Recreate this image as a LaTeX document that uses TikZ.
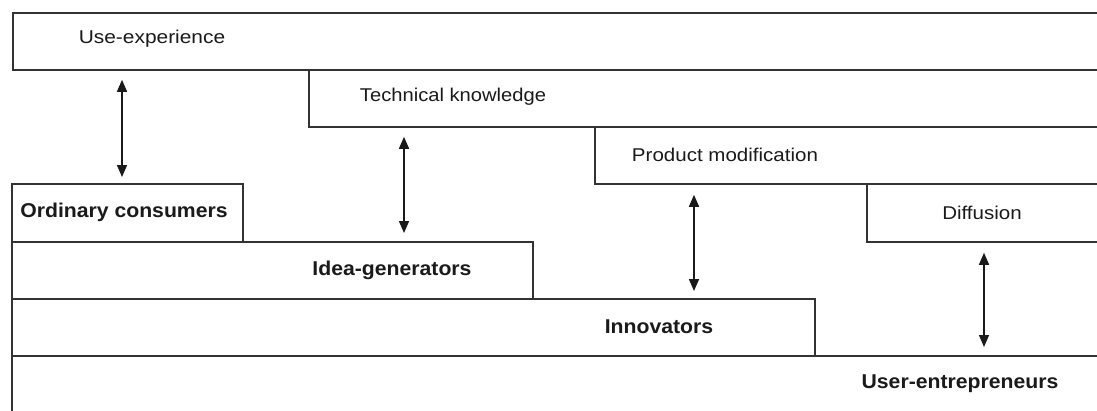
\documentclass[tikz,border=0pt]{standalone}
\usepackage{fontspec}
\setmainfont{Liberation Sans}
\usetikzlibrary{arrows.meta}
\definecolor{edge}{HTML}{333333}
\definecolor{ink}{HTML}{1A1A1A}
\begin{document}
\begin{tikzpicture}[x=1pt,y=-1pt,
  box/.style={draw=edge,line width=1.8pt,rectangle,inner sep=0pt,anchor=north west},
  lbl/.style={text=ink,inner sep=0pt,font=\fontsize{18.5}{21}\selectfont},
  bl/.style={text=ink,inner sep=0pt,font=\fontsize{20}{23}\selectfont\bfseries},
  arr/.style={draw=ink,line width=1.5pt,{Triangle[length=12pt,width=10pt]}-{Triangle[length=12pt,width=10pt]}}]
\useasboundingbox (0,0) rectangle (1097,410);
\fill[white] (0,0) rectangle (1097,410);
\begin{scope}
\clip (0,0) rectangle (1097,410);
% knowledge / activity layers, top right
\node[box,minimum width=1100pt,minimum height=57pt] (ue) at (12,12) {};
\node[box,minimum width=800pt,minimum height=57pt] (tk) at (308,69) {};
\node[box,minimum width=520pt,minimum height=57pt] (pm) at (594,126) {};
\node[box,minimum width=250pt,minimum height=58pt] (df) at (866,183) {};
% user types, bottom left
\node[box,minimum width=231pt,minimum height=58pt] (oc) at (11,183) {};
\node[box,minimum width=521pt,minimum height=57pt] (ig) at (11,241) {};
\node[box,minimum width=803pt,minimum height=57pt] (in) at (11,298) {};
\node[box,minimum width=1100pt,minimum height=70pt] (ue2) at (11,355) {};
\end{scope}
% labels
\node[lbl] (t1) at (152,39) {\scalebox{1.13}[1]{Use-experience}};
\node[lbl] (t2) at (453,97) {\scalebox{1.09}[1]{Technical knowledge}};
\node[lbl] (t3) at (725,155) {\scalebox{1.11}[1]{Product modification}};
\node[lbl] (t4) at (982,213) {\scalebox{1.11}[1]{Diffusion}};
\node[bl] (b1) at (124,212) {\scalebox{1.06}[1]{Ordinary consumers}};
\node[bl] (b2) at (392,270) {\scalebox{1.06}[1]{Idea-generators}};
\node[bl] (b3) at (659,327) {\scalebox{1.06}[1]{Innovators}};
\node[bl] (b4) at (960,384) {\scalebox{1.06}[1]{User-entrepreneurs}};
% two-way links between layers
\coordinate (x1) at (122,0);
\coordinate (x2) at (404,0);
\coordinate (x3) at (694,0);
\coordinate (x4) at (984,0);
\draw[arr,shorten <=9pt,shorten >=6pt] (ue.south -| x1) -- (oc.north -| x1);
\draw[arr,shorten <=9pt,shorten >=8pt] (tk.south -| x2) -- (ig.north -| x2);
\draw[arr,shorten <=10pt,shorten >=7pt] (pm.south -| x3) -- (in.north -| x3);
\draw[arr,shorten <=10pt,shorten >=8pt] (df.south -| x4) -- (ue2.north -| x4);
\end{tikzpicture}
\end{document}
